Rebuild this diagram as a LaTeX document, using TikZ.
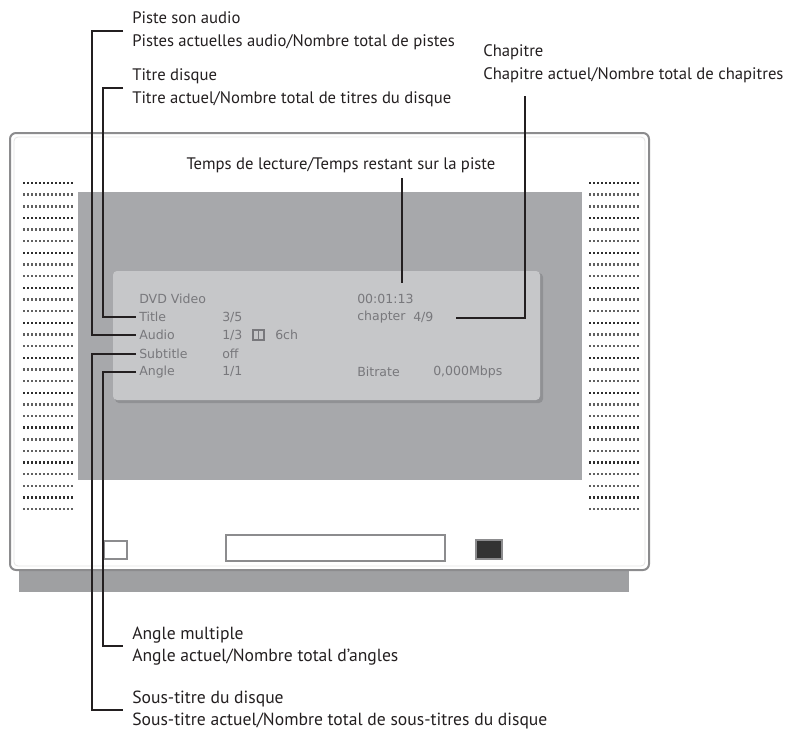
\documentclass[tikz,border=0pt]{standalone}
\usepackage{fontspec}
\setmainfont{PT Sans}
\newfontfamily\osdfont{DejaVu Sans}
\definecolor{framegray}{HTML}{8C8C8E}
\definecolor{basegray}{HTML}{9FA0A2}
\definecolor{screengray}{HTML}{A7A8AB}
\definecolor{panelgray}{HTML}{C6C7C9}
\definecolor{panelshade}{HTML}{909194}
\definecolor{osdgray}{HTML}{78787C}
\definecolor{inkblack}{HTML}{231F20}
\begin{document}
\begin{tikzpicture}[x=0.75pt,y=-0.75pt,
  calltext/.style={font=\fontsize{12.5}{17.25}\selectfont, text=inkblack, align=left,
                   inner xsep=6.75pt, inner ysep=0pt, anchor=west},
  lowtext/.style={calltext, font=\fontsize{13.2}{16.5}\selectfont},
  osd/.style={font=\osdfont\fontsize{9.4}{10}\selectfont, text=osdgray, inner sep=0pt, anchor=west},
  callout/.style={draw=inkblack, line width=1.5pt},
  grille/.style={line width=1.8pt, dash pattern=on 1.6pt off 1.4pt},
  control/.style={draw=framegray, line width=1.3pt}]
\useasboundingbox (0,0) rectangle (793,729);

% --- player body ---
\fill[basegray] (19,566) rectangle (629,592);
\draw[framegray, line width=1.5pt, fill=white, rounded corners=4.5pt] (10,133) rectangle (649,570);
\draw[black!10, line width=0.6pt, rounded corners=3pt] (14,137) rectangle (645,566);

% --- speaker grilles ---
\foreach \i in {0,...,28}{
  \pgfmathsetmacro\shade{ifthenelse(mod(\i,3)==0,82,62)}
  \draw[grille, black!\shade] (23,183+\i*11.65) -- (73,183+\i*11.65);
  \draw[grille, black!\shade] (589,183+\i*11.65) -- (639,183+\i*11.65);
}

% --- screen and on-screen panel ---
\fill[screengray] (78,192) rectangle (582,480);
\fill[panelshade, rounded corners=3pt] (115,273) rectangle (543,403);
\fill[panelgray, rounded corners=3pt] (113,271) rectangle (540,400);

% --- on-screen display ---
\node[osd] (osdDisc) at (139,299) {DVD Video};
\node[osd] (osdTitle) at (139,317) {Title};
\node[osd] (osdAudio) at (139,335) {Audio};
\node[osd] (osdSub) at (139,354) {Subtitle};
\node[osd] (osdAngle) at (139,372) {Angle};
\node[osd] (osdTitleVal) at (222,317) {3/5};
\node[osd] (osdAudioVal) at (222,335) {1/3};
\node[osd] (osdAudioCh) at (275,335) {6ch};
\node[osd] (osdSubVal) at (222,354) {off};
\node[osd] (osdAngleVal) at (222,372) {1/1};
\node[osd] (osdTime) at (357,299) {00:01:13};
\node[osd] (osdChap) at (357,317) {chapter};
\node[osd] (osdChapVal) at (413,317) {4/9};
\node[osd] (osdRate) at (357,372) {Bitrate};
\node[osd] (osdRateVal) at (433,372) {0,000Mbps};
% dual-D audio symbol
\draw[osdgray, line width=0.9pt] (253,330) rectangle (264,340);
\draw[osdgray, line width=0.9pt] (258.5,330) -- (258.5,340);

% --- front controls ---
\draw[control, fill=white] (104,541) rectangle (127,559);
\draw[control, line width=1.6pt] (226,535) rectangle (445,561);
\draw[control, fill=black!80] (476,540) rectangle (502,559);

% --- callout labels ---
\node[calltext] (lblAudio) at (123,31) {Piste son audio\\Pistes actuelles audio/Nombre total de pistes};
\node[calltext] (lblTitle) at (123,88) {Titre disque\\Titre actuel/Nombre total de titres du disque};
\node[calltext] (lblChapter) at (474,64) {Chapitre\\Chapitre actuel/Nombre total de chapitres};
\node[calltext, anchor=center, inner xsep=0pt] (lblTime) at (341,165) {Temps de lecture/Temps restant sur la piste};
\node[lowtext] (lblAngle) at (123,646) {Angle multiple\\Angle actuel/Nombre total d’angles};
\node[lowtext] (lblSub) at (123,710) {Sous-titre du disque\\Sous-titre actuel/Nombre total de sous-titres du disque};

% --- connector lanes and free ends ---
\coordinate (laneA) at (92,0);
\coordinate (laneB) at (103,0);
\coordinate (chapLineEnd) at (456,318);
\coordinate (chapLineTop) at (525,96);
\coordinate (timeLineTop) at (402,178);
\coordinate (timeLineEnd) at (402,283);

% --- connectors ---
\draw[callout] (lblAudio.west) -| (laneA |- osdAudio.west) -- ([xshift=-2.25pt]osdAudio.west);
\draw[callout] (lblTitle.west) -| (laneB |- osdTitle.west) -- ([xshift=-2.25pt]osdTitle.west);
\draw[callout] ([xshift=-2.25pt]osdSub.west) -| (laneA |- lblSub.west) -- (lblSub.west);
\draw[callout] ([xshift=-2.25pt]osdAngle.west) -| (laneB |- lblAngle.west) -- (lblAngle.west);
\draw[callout] (chapLineEnd) -| (chapLineTop);
\draw[callout] (timeLineTop) -- (timeLineEnd);
\end{tikzpicture}
\end{document}
